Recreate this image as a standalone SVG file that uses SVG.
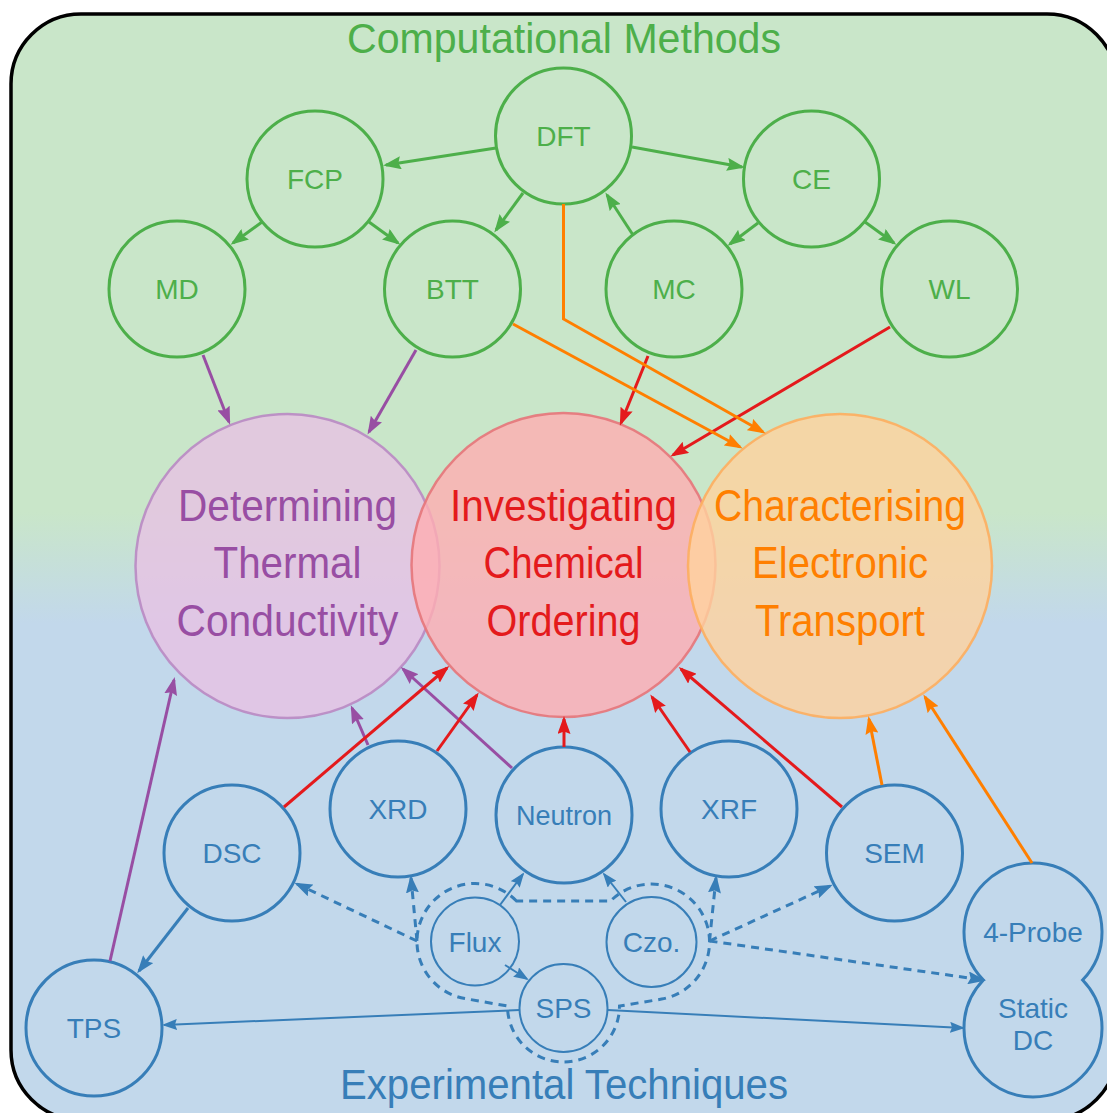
<svg xmlns="http://www.w3.org/2000/svg" width="1107" height="1113" viewBox="0 0 1107 1113">
<defs>
<linearGradient id="bg" gradientUnits="userSpaceOnUse" x1="0" y1="0" x2="0" y2="1113">
<stop offset="0" stop-color="#c9e6c9"/>
<stop offset="0.46" stop-color="#c9e6c9"/>
<stop offset="0.56" stop-color="#c2d8eb"/>
<stop offset="1" stop-color="#c2d8eb"/>
</linearGradient>
<marker id="ag" viewBox="0 0 18 13" markerWidth="18" markerHeight="13" refX="15" refY="6.5" orient="auto" markerUnits="userSpaceOnUse"><path d="M0,0 L18,6.5 L0,13 L2.5,6.5 z" fill="#4daf4a"/></marker>
<marker id="ap" viewBox="0 0 18 13" markerWidth="18" markerHeight="13" refX="15" refY="6.5" orient="auto" markerUnits="userSpaceOnUse"><path d="M0,0 L18,6.5 L0,13 L2.5,6.5 z" fill="#984ea3"/></marker>
<marker id="ar" viewBox="0 0 18 13" markerWidth="18" markerHeight="13" refX="15" refY="6.5" orient="auto" markerUnits="userSpaceOnUse"><path d="M0,0 L18,6.5 L0,13 L2.5,6.5 z" fill="#e41a1c"/></marker>
<marker id="ao" viewBox="0 0 18 13" markerWidth="18" markerHeight="13" refX="15" refY="6.5" orient="auto" markerUnits="userSpaceOnUse"><path d="M0,0 L18,6.5 L0,13 L2.5,6.5 z" fill="#ff7f00"/></marker>
<marker id="ab" viewBox="0 0 18 13" markerWidth="18" markerHeight="13" refX="15" refY="6.5" orient="auto" markerUnits="userSpaceOnUse"><path d="M0,0 L18,6.5 L0,13 L2.5,6.5 z" fill="#377eb8"/></marker>
<marker id="abs" viewBox="0 0 15 11" markerWidth="15" markerHeight="11" refX="13" refY="5.5" orient="auto" markerUnits="userSpaceOnUse"><path d="M0,0 L15,5.5 L0,11 L2,5.5 z" fill="#377eb8"/></marker>
</defs>
<style>
.gn{fill:none;stroke:#4daf4a;stroke-width:3}
.bn{fill:none;stroke:#377eb8;stroke-width:3}
.bs{fill:none;stroke:#377eb8;stroke-width:2}
.lbl{font-family:"Liberation Sans",Arial,sans-serif;font-size:28px;text-anchor:middle}
.gt{fill:#4daf4a}
.bt{fill:#377eb8}
.big{font-family:"Liberation Sans",Arial,sans-serif;font-size:44px;text-anchor:middle}
.ttl{font-family:"Liberation Sans",Arial,sans-serif;font-size:42px;text-anchor:middle}
.cg{fill:none;stroke:#4daf4a;stroke-width:3;marker-end:url(#ag)}
.cp{fill:none;stroke:#984ea3;stroke-width:3;marker-end:url(#ap)}
.cr{fill:none;stroke:#e41a1c;stroke-width:3;marker-end:url(#ar)}
.co{fill:none;stroke:#ff7f00;stroke-width:3;marker-end:url(#ao)}
.cb{fill:none;stroke:#377eb8;stroke-width:3;marker-end:url(#ab)}
.cbs{fill:none;stroke:#377eb8;stroke-width:2;marker-end:url(#abs)}
.cbd{fill:none;stroke:#377eb8;stroke-width:3;stroke-dasharray:8 6;marker-end:url(#ab)}
</style>
<rect x="11" y="14" width="1106" height="1106" rx="70" ry="70" fill="url(#bg)" stroke="#000" stroke-width="3.5"/>
<text class="ttl" x="564" y="53" fill="#4daf4a" textLength="434" lengthAdjust="spacingAndGlyphs">Computational Methods</text>
<text class="ttl" x="564" y="1099" fill="#377eb8" textLength="448" lengthAdjust="spacingAndGlyphs">Experimental Techniques</text>

<g id="thermal">
<circle cx="287.5" cy="566" r="152" fill="#e7c2e4" fill-opacity="0.8" stroke="#b98ac3" stroke-width="2.5" stroke-opacity="0.9"/>
<text class="big" fill="#984ea3"><tspan x="287.5" y="521" textLength="219" lengthAdjust="spacingAndGlyphs">Determining</tspan><tspan x="287.5" y="578" textLength="148" lengthAdjust="spacingAndGlyphs">Thermal</tspan><tspan x="287.5" y="636" textLength="222" lengthAdjust="spacingAndGlyphs">Conductivity</tspan></text>
</g>
<g id="chemical">
<circle cx="563.5" cy="565" r="152" fill="#ffaeb1" fill-opacity="0.8" stroke="#e6757a" stroke-width="2.5" stroke-opacity="0.9"/>
<text class="big" fill="#e41a1c"><tspan x="563.5" y="521" textLength="227" lengthAdjust="spacingAndGlyphs">Investigating</tspan><tspan x="563.5" y="578" textLength="160" lengthAdjust="spacingAndGlyphs">Chemical</tspan><tspan x="563.5" y="636" textLength="154" lengthAdjust="spacingAndGlyphs">Ordering</tspan></text>
</g>
<g id="electronic">
<circle cx="840" cy="566" r="152" fill="#ffd29e" fill-opacity="0.8" stroke="#fdae5f" stroke-width="2.5" stroke-opacity="0.9"/>
<text class="big" fill="#ff7f00"><tspan x="840" y="521" textLength="252" lengthAdjust="spacingAndGlyphs">Characterising</tspan><tspan x="840" y="578" textLength="176" lengthAdjust="spacingAndGlyphs">Electronic</tspan><tspan x="840" y="636" textLength="170" lengthAdjust="spacingAndGlyphs">Transport</tspan></text>
</g>

<g id="dft"><circle class="gn" cx="563.5" cy="136" r="68"/><text class="lbl gt" x="563.5" y="146">DFT</text></g>
<g id="fcp"><circle class="gn" cx="315" cy="179" r="68"/><text class="lbl gt" x="315" y="189">FCP</text></g>
<g id="ce"><circle class="gn" cx="811.5" cy="179" r="68"/><text class="lbl gt" x="811.5" y="189">CE</text></g>
<g id="md"><circle class="gn" cx="177" cy="289" r="68"/><text class="lbl gt" x="177" y="299">MD</text></g>
<g id="btt"><circle class="gn" cx="452.5" cy="289" r="68"/><text class="lbl gt" x="452.5" y="299">BTT</text></g>
<g id="mc"><circle class="gn" cx="674" cy="289" r="68"/><text class="lbl gt" x="674" y="299">MC</text></g>
<g id="wl"><circle class="gn" cx="949.5" cy="289" r="68"/><text class="lbl gt" x="949.5" y="299">WL</text></g>

<g id="dsc"><circle class="bn" cx="232" cy="853" r="68"/><text class="lbl bt" x="232" y="863">DSC</text></g>
<g id="xrd"><circle class="bn" cx="398" cy="809" r="68"/><text class="lbl bt" x="398" y="819">XRD</text></g>
<g id="neutron"><circle class="bn" cx="564" cy="815" r="68"/><text class="lbl bt" x="564" y="825" style="font-size:27px">Neutron</text></g>
<g id="xrf"><circle class="bn" cx="729" cy="809" r="68"/><text class="lbl bt" x="729" y="819">XRF</text></g>
<g id="sem"><circle class="bn" cx="894.5" cy="853" r="68"/><text class="lbl bt" x="894.5" y="863">SEM</text></g>
<g id="tps"><circle class="bn" cx="94" cy="1028" r="68"/><text class="lbl bt" x="94" y="1038">TPS</text></g>
<g id="flux"><circle class="bs" cx="475" cy="941.5" r="44"/><text class="lbl bt" x="475" y="951.5">Flux</text></g>
<g id="czo"><circle class="bs" cx="651.5" cy="942" r="45"/><text class="lbl bt" x="651.5" y="952">Czo.</text></g>
<g id="sps"><circle class="bs" cx="563.5" cy="1008" r="44"/><text class="lbl bt" x="563.5" y="1018">SPS</text></g>
<g id="probe-dc">
<path class="bn" d="M983.4,980 A69,69 0 1 1 1082.6,980 A69,69 0 1 1 983.4,980 Z"/>
<text class="lbl bt" x="1033" y="942">4-Probe</text>
<text class="lbl bt" x="1033" y="1018">Static</text>
<text class="lbl bt" x="1033" y="1050">DC</text>
</g>
<g id="growth-group">
<path d="M516.5,901 A58,58 0 1 0 464.9,998.6 L507.5,1006 A56,56 0 1 0 619.5,1006 L661.6,999.1 A58,58 0 1 0 610.5,901 Z" fill="none" stroke="#377eb8" stroke-width="3" stroke-dasharray="8 6"/>
</g>

<g id="connectors">
<line class="cg" x1="496" y1="148" x2="386" y2="165"/>
<line class="cg" x1="632" y1="147" x2="742" y2="167"/>
<line class="cg" x1="523" y1="193" x2="496" y2="230"/>
<line class="cg" x1="633" y1="235" x2="607" y2="195"/>
<line class="cg" x1="262" y1="222" x2="233" y2="243"/>
<line class="cg" x1="369" y1="222" x2="398" y2="243"/>
<line class="cg" x1="758" y1="223" x2="730" y2="244"/>
<line class="cg" x1="865" y1="222" x2="894" y2="243"/>

<line class="cp" x1="203" y1="355" x2="229" y2="422"/>
<line class="cp" x1="416" y1="350" x2="369" y2="432"/>
<line class="cp" x1="110" y1="961" x2="174" y2="680"/>
<line class="cp" x1="368" y1="745" x2="352" y2="708"/>
<line class="cp" x1="512" y1="768" x2="403" y2="669"/>

<line class="cr" x1="648" y1="356" x2="621" y2="423"/>
<line class="cr" x1="890" y1="327" x2="673" y2="455"/>
<line class="cr" x1="284" y1="807" x2="447" y2="668"/>
<line class="cr" x1="437" y1="751" x2="477" y2="695"/>
<line class="cr" x1="564" y1="747" x2="564" y2="719"/>
<line class="cr" x1="690" y1="752" x2="652" y2="697"/>
<line class="cr" x1="842" y1="807" x2="681" y2="669"/>

<polyline class="co" points="563.5,204 563.5,319 763,432"/>
<line class="co" x1="513" y1="324" x2="740" y2="447"/>
<line class="co" x1="882" y1="785" x2="869" y2="719"/>
<line class="co" x1="1032" y1="863" x2="925" y2="697"/>

<line class="cb" x1="188" y1="908" x2="139" y2="971"/>
<line class="cbs" x1="519.5" y1="1010" x2="164" y2="1025"/>
<line class="cbs" x1="607.5" y1="1010" x2="963" y2="1028"/>
<line class="cbs" x1="505" y1="965" x2="527" y2="979"/>
<line class="cbs" x1="500" y1="905" x2="523" y2="874"/>
<line class="cbs" x1="626" y1="902" x2="604" y2="874"/>

<line class="cbd" x1="417" y1="941" x2="297" y2="884"/>
<line class="cbd" x1="417" y1="941" x2="411" y2="878"/>
<line class="cbd" x1="709.5" y1="941" x2="716" y2="878"/>
<line class="cbd" x1="709.5" y1="941" x2="830" y2="886"/>
<line class="cbd" x1="709.5" y1="941" x2="983" y2="980"/>
</g>
</svg>
